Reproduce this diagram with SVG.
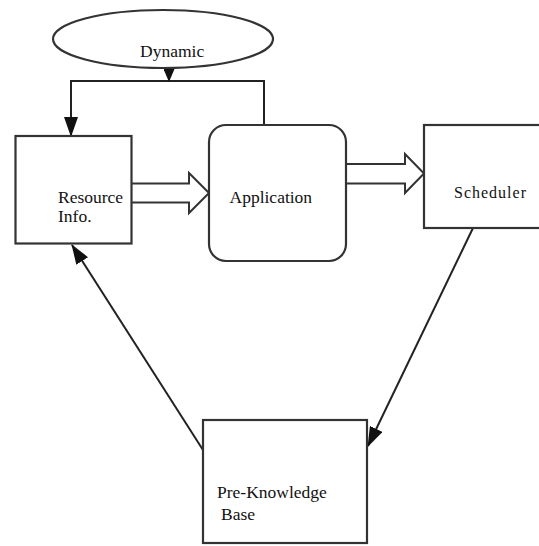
<svg xmlns="http://www.w3.org/2000/svg" width="539" height="546" viewBox="0 0 539 546">
<defs>
<style>
.box{fill:#fff;stroke:#333;stroke-width:2.2}
.ln{fill:none;stroke:#222;stroke-width:2}
.blk{fill:#fff;stroke:#333;stroke-width:2;stroke-linejoin:miter}
.t{font-family:"Liberation Serif","Times New Roman",serif;font-size:17.5px;fill:#111}
</style>
<marker id="ah" markerUnits="userSpaceOnUse" markerWidth="20" markerHeight="14" refX="19" refY="7" orient="auto">
<path d="M0,0 L20,7 L0,14 z" fill="#111"/>
</marker>
<marker id="ahs" markerUnits="userSpaceOnUse" markerWidth="13" markerHeight="11" refX="12" refY="5.5" orient="auto">
<path d="M0,0 L13,5.5 L0,11 z" fill="#111"/>
</marker>
</defs>
<rect width="539" height="546" fill="#fff"/>
<g id="connectors">
<path class="ln" d="M264,125 V81 H71 V136" marker-end="url(#ah)"/>
<path class="ln" d="M169,68 V81" marker-end="url(#ahs)"/>
<path class="ln" d="M203,450 L72,245" marker-end="url(#ah)"/>
<path class="ln" d="M473,228 L368,446" marker-end="url(#ah)"/>
<path class="blk" d="M131,183.5 H189 V173 L209,193 L189,213 V202.5 H131"/>
<path class="blk" d="M346,164 H405 V154 L424,173.5 L405,193 V183.5 H346"/>
</g>
<g id="dynamic">
<ellipse class="box" cx="163" cy="39" rx="110" ry="29"/>
<text class="t" x="140" y="57">Dynamic</text>
</g>
<g id="resource">
<rect class="box" x="15.5" y="136" width="116" height="107.5"/>
<text class="t" x="58" y="202.5">Resource</text>
<text class="t" x="58" y="222">Info.</text>
</g>
<g id="application">
<rect class="box" x="209" y="125" width="137" height="136" rx="17" ry="17"/>
<text class="t" x="229.5" y="202.5">Application</text>
</g>
<g id="scheduler">
<rect class="box" x="424" y="125" width="120" height="103"/>
<text class="t" x="454" y="198" style="font-size:16px;letter-spacing:1px">Scheduler</text>
</g>
<g id="preknowledge">
<rect class="box" x="203" y="420" width="164" height="123"/>
<text class="t" x="217" y="498">Pre-Knowledge</text>
<text class="t" x="221" y="520">Base</text>
</g>
</svg>
